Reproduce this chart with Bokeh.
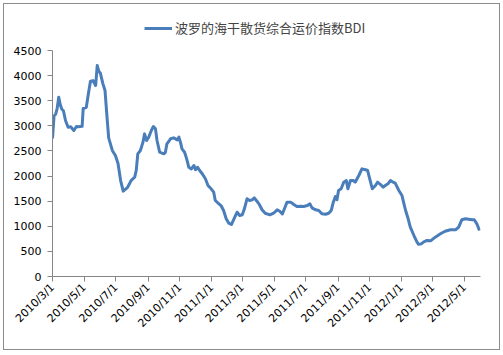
import math
import pandas as pd
from bokeh.plotting import figure
from bokeh.layouts import column
from bokeh.models import Range1d, FixedTicker, Legend, LegendItem, ColumnDataSource
from bokeh.embed import file_html
from bokeh.resources import INLINE

series_name = "波罗的海干散货综合运价指数BDI"

dates = [
    "2010-03-01", "2010-03-04", "2010-03-07", "2010-03-10", "2010-03-13", "2010-03-16", "2010-03-19", "2010-03-22",
    "2010-03-26", "2010-03-31", "2010-04-05", "2010-04-11", "2010-04-16", "2010-04-20", "2010-04-27", "2010-04-29",
    "2010-05-05", "2010-05-10", "2010-05-13", "2010-05-18", "2010-05-23", "2010-05-26", "2010-05-29", "2010-06-01",
    "2010-06-06", "2010-06-10", "2010-06-14", "2010-06-17", "2010-06-24", "2010-06-30", "2010-07-05", "2010-07-10",
    "2010-07-15", "2010-07-23", "2010-07-27", "2010-07-30", "2010-08-06", "2010-08-09", "2010-08-12", "2010-08-17",
    "2010-08-22", "2010-08-25", "2010-08-29", "2010-09-02", "2010-09-07", "2010-09-11", "2010-09-15", "2010-09-18",
    "2010-09-23", "2010-10-01", "2010-10-04", "2010-10-07", "2010-10-14", "2010-10-20", "2010-10-27", "2010-10-30",
    "2010-11-02", "2010-11-05", "2010-11-10", "2010-11-14", "2010-11-18", "2010-11-23", "2010-11-28", "2010-12-01",
    "2010-12-05", "2010-12-09", "2010-12-14", "2010-12-20", "2010-12-25", "2010-12-31", "2011-01-05", "2011-01-08",
    "2011-01-15", "2011-01-19", "2011-01-24", "2011-01-29", "2011-02-03", "2011-02-08", "2011-02-13", "2011-02-19",
    "2011-02-24", "2011-03-01", "2011-03-05", "2011-03-10", "2011-03-15", "2011-03-20", "2011-03-24", "2011-03-28",
    "2011-04-02", "2011-04-08", "2011-04-14", "2011-04-23", "2011-04-30", "2011-05-07", "2011-05-12", "2011-05-17",
    "2011-05-21", "2011-05-26", "2011-06-02", "2011-06-08", "2011-06-14", "2011-06-21", "2011-06-27", "2011-07-04",
    "2011-07-09", "2011-07-13", "2011-07-20", "2011-07-26", "2011-08-01", "2011-08-08", "2011-08-14", "2011-08-19",
    "2011-08-23", "2011-08-27", "2011-08-30", "2011-09-02", "2011-09-07", "2011-09-12", "2011-09-17", "2011-09-20",
    "2011-09-25", "2011-09-30", "2011-10-04", "2011-10-11", "2011-10-17", "2011-10-24", "2011-10-28", "2011-11-01",
    "2011-11-06", "2011-11-12", "2011-11-16", "2011-11-22", "2011-11-27", "2011-12-01", "2011-12-06", "2011-12-11",
    "2011-12-16", "2011-12-20", "2011-12-27", "2012-01-02", "2012-01-05", "2012-01-09", "2012-01-13", "2012-01-18",
    "2012-01-25", "2012-01-31", "2012-02-03", "2012-02-08", "2012-02-13", "2012-02-19", "2012-02-26", "2012-03-06",
    "2012-03-16", "2012-03-25", "2012-04-04", "2012-04-14", "2012-04-20", "2012-04-26", "2012-05-03", "2012-05-09",
    "2012-05-16", "2012-05-20", "2012-05-25", "2012-05-30",
]

bdi = [
    2750, 3200, 3230, 3350, 3570, 3420, 3330, 3300,
    3106, 2973, 2980, 2907, 2986, 2980, 2990, 3345,
    3370, 3703, 3889, 3900, 3803, 4201, 4088, 4048,
    3836, 3703, 3150, 2760, 2510, 2410, 2250, 1910,
    1700, 1770, 1845, 1910, 1977, 2110, 2443, 2509,
    2675, 2840, 2708, 2773, 2907, 2986, 2940, 2708,
    2475, 2443, 2470, 2642, 2742, 2761, 2720, 2775,
    2675, 2540, 2475, 2343, 2176, 2143, 2210, 2125,
    2176, 2110, 2045, 1945, 1812, 1746, 1679, 1513,
    1447, 1413, 1314, 1149, 1061, 1035, 1149, 1280,
    1215, 1230, 1348, 1547, 1513, 1525, 1567, 1513,
    1447, 1328, 1260, 1228, 1260, 1328, 1300, 1248,
    1348, 1480, 1480, 1433, 1394, 1400, 1394, 1413,
    1447, 1367, 1328, 1315, 1248, 1240, 1260, 1315,
    1480, 1593, 1530, 1712, 1746, 1878, 1911, 1746,
    1911, 1911, 1878, 2011, 2143, 2125, 2110, 1945,
    1746, 1812, 1878, 1830, 1778, 1812, 1845, 1911,
    1878, 1860, 1712, 1613, 1480, 1314, 1180, 982,
    816, 683, 640, 650, 690, 717, 710, 783,
    850, 902, 930, 930, 982, 1129, 1149, 1140,
    1129, 1129, 1049, 916,
]

tick_labels = [
    "2010/3/1", "2010/5/1", "2010/7/1", "2010/9/1", "2010/11/1", "2011/1/1", "2011/3/1",
    "2011/5/1", "2011/7/1", "2011/9/1", "2011/11/1", "2012/1/1", "2012/3/1", "2012/5/1",
]
y_ticks = [0, 500, 1000, 1500, 2000, 2500, 3000, 3500, 4000, 4500]
x_start = "2010/3/1"
x_end = "2012/6/1"

origin = pd.Timestamp(x_start)


def day(s):
    return int((pd.Timestamp(s) - origin).days)


line_color = "#4A7EBB"
source = ColumnDataSource(data=dict(x=[day(d) for d in dates], y=bdi))

# --- legend strip (top) ---
top = figure(
    width=495, height=40,
    output_backend="svg", toolbar_location=None,
    x_axis_type=None, y_axis_type=None,
    x_range=Range1d(0, day(x_end)), y_range=Range1d(9000, 9001),
    min_border_left=48, min_border_right=19, min_border_top=0, min_border_bottom=0,
    background_fill_color="white", border_fill_color="white",
)
top.outline_line_color = None
top.grid.visible = False
key = top.line("x", "y", source=source, line_color=line_color, line_width=3, visible=False)
legend = Legend(
    items=[LegendItem(label=series_name, renderers=[key])],
    location=(92, 7),
    padding=0, margin=0, spacing=0,
    glyph_width=28, glyph_height=18, label_height=18, label_standoff=3,
    border_line_alpha=0, background_fill_alpha=0,
    label_text_font="Noto Sans CJK SC", label_text_font_size="13px",
)
top.add_layout(legend, "center")

# --- main chart ---
p = figure(
    width=495, height=305,
    output_backend="svg", toolbar_location=None,
    x_range=Range1d(0, day(x_end)), y_range=Range1d(0, 4500),
    min_border_left=48, min_border_right=19, min_border_top=6, min_border_bottom=73,
    background_fill_color="white", border_fill_color="white",
)
p.outline_line_color = None
p.xgrid.visible = False
p.ygrid.visible = False

axis_color = "#868686"
for ax in (p.xaxis[0], p.yaxis[0]):
    ax.axis_line_color = axis_color
    ax.major_tick_line_color = axis_color
    ax.minor_tick_line_color = None
    ax.major_tick_out = 5
    ax.major_tick_in = 0
    ax.major_label_text_font = "DejaVu Sans"
    ax.major_label_text_font_size = "11px"
    ax.major_label_text_color = "black"

p.yaxis.ticker = FixedTicker(ticks=y_ticks)
p.yaxis.major_label_standoff = 6
p.xaxis.ticker = FixedTicker(ticks=[day(t) for t in tick_labels])
p.xaxis.major_label_overrides = {day(t): t for t in tick_labels}
p.xaxis.major_label_orientation = math.pi / 4
p.xaxis.major_label_standoff = 4

p.line("x", "y", source=source, line_color=line_color, line_width=3, line_join="round")

layout = column(top, p, spacing=0, styles={"margin": "3px", "border": "1px solid #8c8c8c"})

open("out.html", "w").write(file_html(layout, INLINE))
